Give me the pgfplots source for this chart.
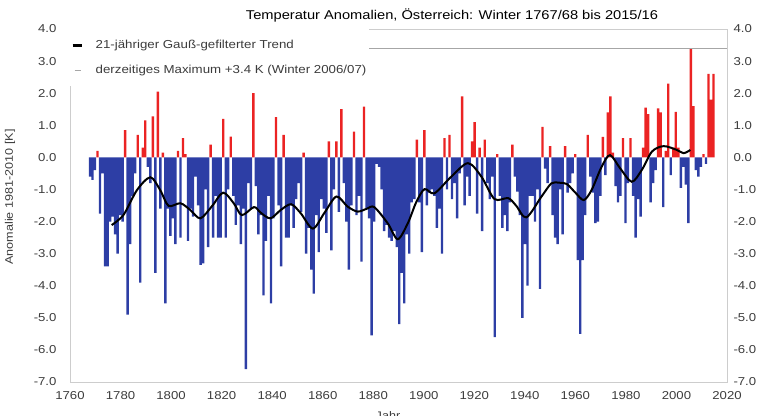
\documentclass[border=0pt]{standalone}
\usepackage{fontspec}
\setmainfont{Liberation Sans}[FakeStretch=1.15]
\usepackage{pgfplots}
\usepackage{pgfplotstable}
\pgfplotsset{compat=1.18}
\definecolor{barblue}{RGB}{45,62,165}
\definecolor{barred}{RGB}{235,35,35}
\definecolor{ticktext}{RGB}{60,60,60}
\definecolor{framegray}{RGB}{205,205,205}

\pgfplotstableread{
E v
1768 -0.6
1769 -0.7
1770 -0.4
1771 0.2
1772 -1.75
1773 -0.5
1774 -3.4
1775 -3.4
1776 -2.0
1777 -1.85
1778 -2.4
1779 -3.0
1780 -1.8
1781 -2.0
1782 0.85
1783 -4.9
1784 -2.7
1785 -1.2
1786 -0.5
1787 0.7
1788 -3.9
1789 0.3
1790 1.15
1791 -0.3
1792 -0.8
1793 1.28
1794 -3.6
1795 2.05
1796 -1.6
1797 0.15
1798 -4.55
1799 -1.6
1800 -2.45
1801 -1.9
1802 -2.7
1803 0.2
1804 -2.5
1805 0.6
1806 0.1
1807 -2.6
1808 -1.6
1809 -1.85
1810 -0.6
1811 -1.5
1812 -3.35
1813 -3.3
1814 -1.0
1815 -2.8
1816 0.4
1817 -2.5
1818 -1.2
1819 -2.5
1820 -2.5
1821 1.2
1822 -2.5
1823 -1.0
1824 0.65
1825 -1.2
1826 -2.1
1827 -1.5
1828 -2.7
1829 -1.6
1830 -6.6
1831 -0.8
1832 -1.6
1833 2.0
1834 -0.9
1835 -2.4
1836 -1.8
1837 -4.3
1838 -2.6
1839 -1.2
1840 -4.55
1841 -1.9
1842 1.25
1843 -1.5
1844 -3.4
1845 0.7
1846 -2.5
1847 -2.5
1848 -1.5
1849 -2.2
1850 -1.3
1851 -0.8
1852 -1.7
1853 0.15
1854 -3.0
1855 -2.2
1856 -3.5
1857 -4.25
1858 -1.8
1859 -2.95
1860 -1.3
1861 -1.6
1862 -2.35
1863 0.5
1864 -2.9
1865 -1.0
1866 0.5
1867 -1.7
1868 1.5
1869 -0.8
1870 -2.0
1871 -3.5
1872 -1.5
1873 0.8
1874 -1.8
1875 -1.2
1876 -3.25
1877 1.58
1878 -1.6
1879 -1.9
1880 -5.55
1881 -2.0
1882 -0.2
1883 -0.3
1884 -1.0
1885 -2.3
1886 -2.1
1887 -2.5
1888 -2.6
1889 -2.3
1890 -2.8
1891 -5.2
1892 -3.6
1893 -4.55
1894 -2.4
1895 -3.0
1896 -1.4
1897 -1.3
1898 0.55
1899 -1.4
1900 -2.95
1901 0.85
1902 -1.5
1903 -1.1
1904 -1.0
1905 -1.2
1906 -2.2
1907 -1.6
1908 -3.0
1909 0.6
1910 -1.0
1911 0.7
1912 -1.3
1913 -0.8
1914 -1.9
1915 -0.5
1916 1.9
1917 -1.5
1918 -0.6
1919 -1.2
1920 0.5
1921 1.1
1922 -1.75
1923 0.3
1924 -2.3
1925 0.55
1926 -0.8
1927 -1.3
1928 -0.6
1929 -5.6
1930 0.1
1931 -1.2
1932 -2.2
1933 -1.8
1934 -2.3
1935 -1.4
1936 0.4
1937 -0.6
1938 -1.07
1939 -1.8
1940 -5.0
1941 -2.7
1942 -4.0
1943 -1.2
1944 -1.2
1945 -2.0
1946 -1.0
1947 -4.1
1948 0.95
1949 -0.35
1950 -0.8
1951 0.35
1952 -1.8
1953 -2.5
1954 -2.7
1955 -1.0
1956 -2.4
1957 0.35
1958 -1.1
1959 -0.8
1960 -0.5
1961 0.1
1962 -3.2
1963 -5.5
1964 -3.2
1965 -1.8
1966 0.7
1967 -0.6
1968 -1.1
1969 -2.05
1970 -2.0
1971 -1.2
1972 0.64
1973 -0.55
1974 1.4
1975 1.9
1976 0.15
1977 -0.9
1978 -1.4
1979 -1.2
1980 0.6
1981 -2.05
1982 -0.8
1983 0.6
1984 -1.2
1985 -2.5
1986 -1.3
1987 -1.85
1988 0.3
1989 1.55
1990 1.35
1991 -1.4
1992 -0.8
1993 -0.4
1994 1.53
1995 1.4
1996 -1.55
1997 0.2
1998 2.3
1999 -0.55
2000 0.3
2001 1.42
2002 0.3
2003 -0.95
2004 -0.3
2005 -0.85
2006 -2.05
2007 3.4
2008 1.6
2009 -0.4
2010 -0.6
2011 -0.3
2012 0.1
2013 -0.2
2014 2.6
2015 1.8
2016 2.6
}\winter

\pgfplotstableread{
A t
1776.5 -2.11
1781.2 -1.79
1786.5 -1.02
1791.8 -0.62
1795.7 -1.02
1799.0 -1.51
1803.7 -1.43
1807.6 -1.64
1811.6 -1.90
1816.3 -1.51
1820.6 -1.10
1824.8 -1.43
1828.0 -1.80
1832.8 -1.55
1835.4 -1.72
1839.3 -1.90
1843.4 -1.64
1847.5 -1.46
1851.3 -1.74
1856.1 -2.22
1860.6 -1.74
1865.4 -1.22
1869.8 -1.53
1873.8 -1.69
1877.5 -1.60
1880.4 -1.55
1885.7 -2.05
1889.7 -2.55
1893.7 -2.05
1897.0 -1.40
1900.3 -0.99
1904.2 -1.12
1910.9 -0.60
1917.5 -0.18
1922.8 -0.60
1928.0 -1.30
1933.4 -1.27
1936.5 -1.50
1940.6 -1.87
1946.6 -1.22
1950.5 -0.81
1953.5 -0.79
1956.6 -0.83
1960.0 -1.10
1963.3 -1.33
1966.4 -1.02
1970.4 -0.29
1973.7 0.07
1977.7 -0.34
1982.3 -0.76
1986.3 -0.39
1990.3 0.18
1994.9 0.35
2000.2 0.23
2002.8 0.13
2005.5 0.23
}\trend

\begin{document}
\begin{tikzpicture}
\path[use as bounding box] (-70bp,-34bp) rectangle (693bp,382bp);
\begin{axis}[
  name=main,
  at={(0,0)}, anchor=south west,
  scale only axis, width=657bp, height=353bp,
  xmin=1760, xmax=2020, ymin=-7, ymax=4,
  xtick={1760,1780,...,2020},
  xticklabels={1760,1780,1800,1820,1840,1860,1880,1900,1920,1940,1960,1980,2000,2020},
  ytick={-7,-6,...,4},
  yticklabels={-7.0,-6.0,-5.0,-4.0,-3.0,-2.0,-1.0,0.0,1.0,2.0,3.0,4.0},
  major tick length=0pt,
  axis line style={framegray},
  tick label style={font=\fontsize{11.5}{13}\selectfont, text=ticktext},
  xticklabel style={yshift=-6bp},
  yticklabel style={xshift=-10bp},
  legend style={at={(0,1)}, anchor=north west, draw=none, fill=white,
    font=\fontsize{11.6}{14}\selectfont, text=ticktext,
    inner xsep=1bp, inner ysep=9bp, row sep=11bp},
  legend cell align=left,
]
\addplot[ybar, bar width=0.95, bar shift=0pt, fill=barblue, draw=none,
  restrict y to domain=-10:0, forget plot]
  table[x expr={1767.9+0.995*(\thisrow{E}-1768)}, y=v] {\winter};
\addplot[ybar, bar width=0.95, bar shift=0pt, fill=barred, draw=none,
  restrict y to domain=0:10, forget plot]
  table[x expr={1767.9+0.995*(\thisrow{E}-1768)}, y=v] {\winter};
\addplot[black, line width=2bp, smooth, tension=0.5,
  legend image code/.code={\draw[black, line width=3bp] (0bp,0bp) -- (9bp,0bp); \path[draw=none] (0bp,0bp) -- (21bp,0bp);}]
  table[x=A, y=t] {\trend};
\addlegendentry{21-jähriger Gauß-gefilterter Trend}
\addplot[gray!70, line width=0.8bp,
  legend image code/.code={\draw[gray!70, line width=0.8bp] (2bp,0bp) -- (8bp,0bp); \path[draw=none] (0bp,0bp) -- (21bp,0bp);}]
  coordinates {(1760,3.4) (2020,3.4)};
\addlegendentry{derzeitiges Maximum +3.4 K (Winter 2006/07)}
\end{axis}
\begin{axis}[
  at={(0,0)}, anchor=south west,
  scale only axis, width=657bp, height=353bp,
  xmin=1760, xmax=2020, ymin=-7, ymax=4,
  axis x line=none, axis y line*=right,
  ytick={-7,-6,...,4},
  yticklabels={-7.0,-6.0,-5.0,-4.0,-3.0,-2.0,-1.0,0.0,1.0,2.0,3.0,4.0},
  major tick length=0pt,
  axis line style={framegray},
  tick label style={font=\fontsize{11.5}{13}\selectfont, text=ticktext},
  yticklabel style={xshift=3bp},
]
\addplot[draw=none] coordinates {(1760,0) (2020,0)};
\end{axis}
\node[font=\fontsize{12.8}{15}\selectfont] at (382bp,367bp)
  {Temperatur Anomalien, Österreich: Winter 1767/68 bis 2015/16};
\node[rotate=90, font=\fontsize{11}{13}\selectfont, text=ticktext] at (-60bp,185bp)
  {Anomalie 1981-2010 [K]};
\node[anchor=north, font=\fontsize{11}{13}\selectfont, text=ticktext] at (318bp,-26bp) {Jahr};
\end{tikzpicture}
\end{document}
